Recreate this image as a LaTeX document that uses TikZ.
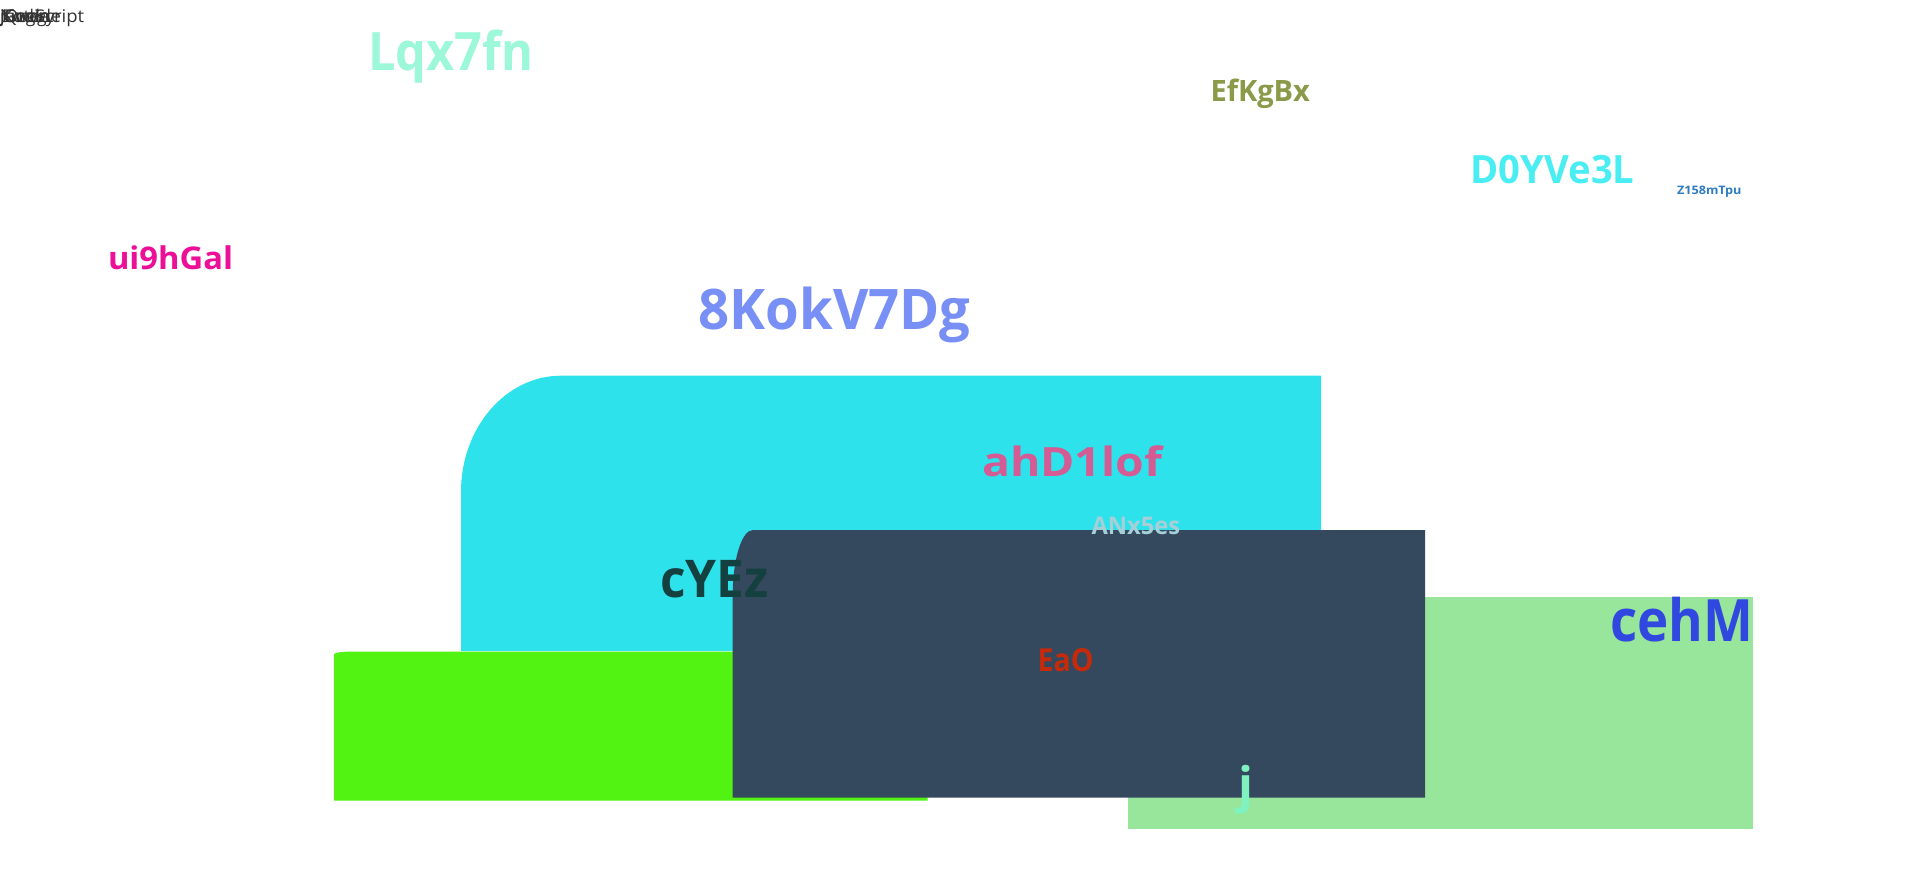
\documentclass[tikz,border=0pt]{standalone}
\usepackage{fontspec}
\setmainfont{Open Sans}
\usepackage{graphicx}
\definecolor{cyanbox}{HTML}{2EE2EC}
\definecolor{greenbox}{HTML}{52F212}
\definecolor{darkbox}{HTML}{34495E}
\definecolor{lightgreenbox}{HTML}{98E69B}
\definecolor{cLqx}{HTML}{9CF8D8}
\definecolor{cEfK}{HTML}{8A9A48}
\definecolor{cD0Y}{HTML}{4AEEF2}
\definecolor{cZ15}{HTML}{2F7CC0}
\definecolor{cui9}{HTML}{EC1098}
\definecolor{c8Ko}{HTML}{7890F5}
\definecolor{cahD}{HTML}{D45B94}
\definecolor{cANx}{HTML}{A6CFD8}
\definecolor{ccYE}{HTML}{154040}
\definecolor{cEaO}{HTML}{C52A0B}
\definecolor{cj}{HTML}{7FF2C0}
\definecolor{cceh}{HTML}{3048E0}
\definecolor{ctop}{HTML}{333333}
\newcommand\fitw[3]{\resizebox{#1pt}{\height}{\fontsize{#2}{#2}\selectfont\bfseries #3}}
\newcommand\fitr[3]{\resizebox{#1pt}{\height}{\fontsize{#2}{#2}\selectfont #3}}
\tikzset{
  lbl/.style={inner sep=0pt, outer sep=0pt, anchor=base west},
  toplbl/.style={inner sep=0pt, anchor=base west, text=ctop, font=\fontsize{17.5}{17.5}\selectfont},
}
\begin{document}
\begin{tikzpicture}[x=1pt,y=-1pt]
\useasboundingbox (0,0) rectangle (1920,870);
\fill[white] (0,0) rectangle (1920,870);
% shapes
\fill[cyanbox] (461,651) -- (461,491.7) .. controls (461,427.7) and (505.8,375.7) .. (561,375.7) -- (1321,375.7) -- (1321,651) -- cycle;
\fill[greenbox] (334,800.7) -- (334,654.7) .. controls (334,653) and (340,651.7) .. (347,651.7) -- (927.7,651.7) -- (927.7,800.7) -- cycle;
\fill[lightgreenbox] (1128,597.3) rectangle (1752.7,829);
\fill[darkbox] (732.7,797.7) -- (732.7,595) .. controls (732.7,559.1) and (741.8,530) .. (753,530) -- (1425,530) -- (1425,797.7) -- cycle;
% top-left overlapping labels
\node[toplbl] (t1) at (0,22.7) {\fitr{84}{17.5}{JavaScript}};
\node[toplbl] (t2) at (0,22.7) {jQuery};
\node[toplbl] (t3) at (1,22.7) {Single};
\node[toplbl] (t4) at (3,22.7) {Google};
\node[toplbl] (t5) at (2,22.7) {Kotlin};
% labels
\node[lbl, text=cLqx] (lqx) at (368.5,70) {\fitw{165}{53}{Lqx7fn}};
\node[lbl, text=cEfK] (efk) at (1210.5,101) {\fitw{99.5}{29.4}{EfKgBx}};
\node[lbl, text=cD0Y] (d0y) at (1470.5,183.3) {\fitw{164}{39}{D0YVe3L}};
\node[lbl, text=cZ15] (z15) at (1677,194) {\fitw{64.5}{11.7}{Z158mTpu}};
\node[lbl, text=cui9] (ui9) at (108,269) {\fitw{125}{31.3}{ui9hGal}};
\node[lbl, text=c8Ko] (kok) at (698.5,329.3) {\fitw{272}{56}{8KokV7Dg}};
\node[lbl, text=cahD] (ahd) at (982,476.7) {\fitw{180}{40.3}{ahD1lof}};
\node[lbl, text=cANx] (anx) at (1091.5,534) {\fitw{88.7}{24.3}{ANx5es}};
\node[lbl, text=ccYE] (cye) at (660,597) {\fitw{108.5}{52}{cYEz}};
\node[lbl, text=cEaO] (eao) at (1037.5,671.7) {\fitw{56}{31.7}{EaO}};
\node[lbl, text=cj, font=\fontsize{49}{49}\selectfont\bfseries] (jj) at (1238,802.5) {j};
\node[lbl, text=cceh] (ceh) at (1610,641.7) {\fitw{143}{58.4}{cehM}};
\end{tikzpicture}
\end{document}
